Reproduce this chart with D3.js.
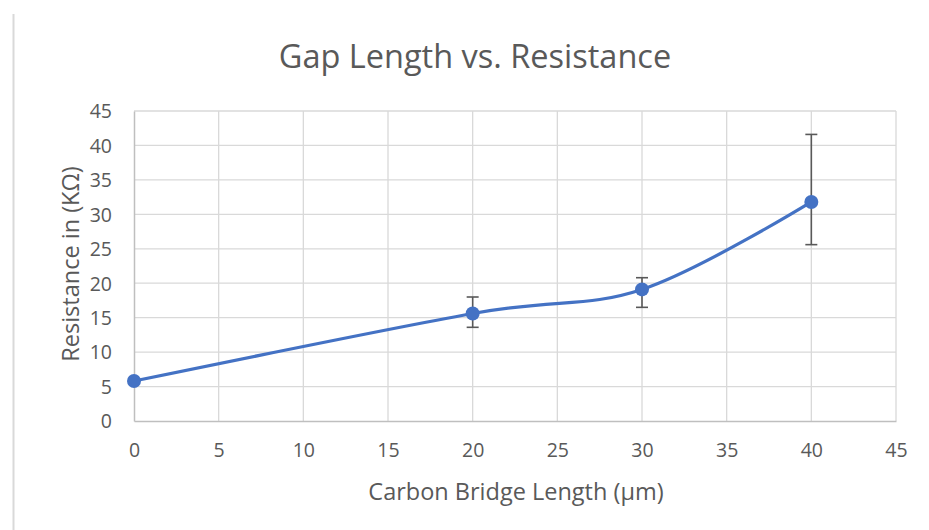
<!DOCTYPE html>
<html><head><meta charset="utf-8">
<script src="https://cdn.jsdelivr.net/npm/d3@7"></script>
<style>body{margin:0;background:#fff;} svg{display:block;}</style>
</head><body>
<svg id="c" width="929" height="530"></svg>
<script>
const xValues = [0, 20, 30, 40];
const yValues = [5.8, 15.6, 19.1, 31.8];
const errLow = [5.8, 13.6, 16.5, 25.6];
const errHigh = [5.8, 18.0, 20.8, 41.6];
const xTicks = [0, 5, 10, 15, 20, 25, 30, 35, 40, 45];
const yTicks = [0, 5, 10, 15, 20, 25, 30, 35, 40, 45];
const titleText = "Gap Length vs. Resistance";
const xTitle = "Carbon Bridge Length (µm)";
const yTitle = "Resistance in (KΩ)";

const svg = d3.select("#c");
const font = "'Open Sans', sans-serif";
const txt = "#595959";
const x = d3.scaleLinear().domain([0, 45]).range([134, 896]);
const y = d3.scaleLinear().domain([0, 45]).range([421, 111]);

// left frame line
svg.append("line").attr("x1", 13.5).attr("x2", 13.5).attr("y1", 14).attr("y2", 530)
  .attr("stroke", "#d9d9d9").attr("stroke-width", 2);

// gridlines
const g = svg.append("g");
g.selectAll(".hg").data(yTicks.filter(d => d > 0)).join("line")
  .attr("x1", x(0)).attr("x2", x(45)).attr("y1", d => y(d)).attr("y2", d => y(d))
  .attr("stroke", "#d9d9d9").attr("stroke-width", 1.3);
g.selectAll(".vg").data(xTicks.filter(d => d > 0)).join("line")
  .attr("y1", y(0)).attr("y2", y(45)).attr("x1", d => x(d)).attr("x2", d => x(d))
  .attr("stroke", "#d9d9d9").attr("stroke-width", 1.3);

// axes
const xAxis = svg.append("g").attr("transform", `translate(0,${y(0)})`)
  .call(d3.axisBottom(x).tickValues(xTicks).tickSize(0).tickPadding(24));
const yAxis = svg.append("g").attr("transform", `translate(${x(0)},0)`)
  .call(d3.axisLeft(y).tickValues(yTicks).tickSize(0).tickPadding(22));
[xAxis, yAxis].forEach(a => {
  a.select(".domain").attr("stroke", "#bfbfbf").attr("stroke-width", 1.5);
  a.selectAll("text").attr("fill", txt).style("font-family", font).style("font-size", "19.5px");
});
yAxis.selectAll("text").attr("dy", "0.35em");
xAxis.selectAll("text").attr("dy", "0.6em");

// line
const pts = xValues.map((d, i) => [x(d), y(yValues[i])]);
svg.append("path").attr("d", d3.line().curve(d3.curveCardinal.tension(0))(pts))
  .attr("fill", "none").attr("stroke", "#4472C4").attr("stroke-width", 3.2)
  .attr("stroke-linecap", "round");

// error bars
const eb = svg.append("g").attr("stroke", "#595959").attr("stroke-width", 1.6);
xValues.forEach((d, i) => {
  if (errHigh[i] === errLow[i]) return;
  eb.append("line").attr("x1", x(d)).attr("x2", x(d)).attr("y1", y(errLow[i])).attr("y2", y(errHigh[i]));
  eb.append("line").attr("x1", x(d) - 6).attr("x2", x(d) + 6).attr("y1", y(errLow[i])).attr("y2", y(errLow[i]));
  eb.append("line").attr("x1", x(d) - 6).attr("x2", x(d) + 6).attr("y1", y(errHigh[i])).attr("y2", y(errHigh[i]));
});

// markers
svg.selectAll(".m").data(xValues).join("circle")
  .attr("cx", d => x(d)).attr("cy", (d, i) => y(yValues[i])).attr("r", 7)
  .attr("fill", "#4472C4");

// titles
svg.append("text").attr("x", 475).attr("y", 68).attr("text-anchor", "middle")
  .attr("fill", txt).style("font-family", font).style("font-size", "32.5px").text(titleText);
svg.append("text").attr("x", 516).attr("y", 500).attr("text-anchor", "middle")
  .attr("fill", txt).style("font-family", font).style("font-size", "23.5px").text(xTitle);
svg.append("text").attr("transform", "translate(79,264) rotate(-90)").attr("text-anchor", "middle")
  .attr("fill", txt).style("font-family", font).style("font-size", "23.5px").text(yTitle);
</script>
</body></html>
